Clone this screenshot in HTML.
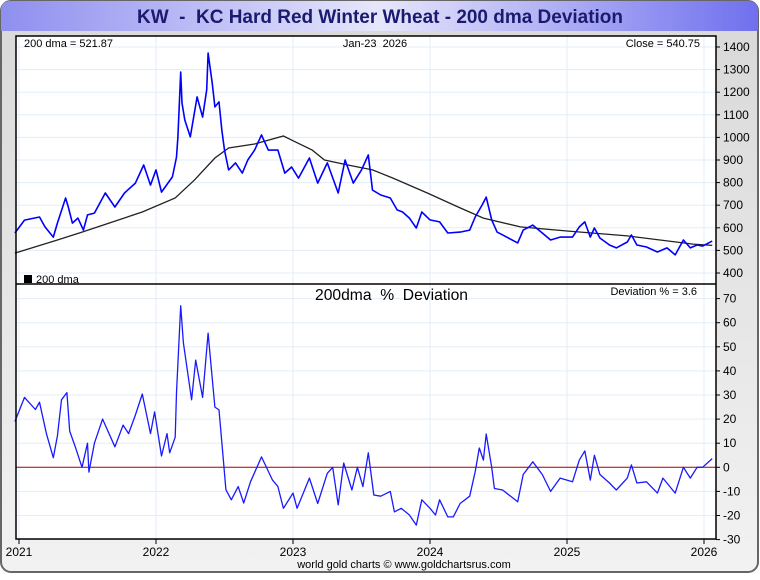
<!DOCTYPE html>
<html><head><meta charset="utf-8">
<style>
html,body{margin:0;padding:0;background:#fff;}
body{width:760px;height:575px;overflow:hidden;font-family:"Liberation Sans",sans-serif;}
</style></head>
<body>
<svg id="chart" width="760" height="575" xmlns="http://www.w3.org/2000/svg" font-family="Liberation Sans, sans-serif">
<defs>
<linearGradient id="tg" x1="0" x2="1" y1="0" y2="0">
<stop offset="0" stop-color="#8f8ff0"/><stop offset="0.5" stop-color="#e6e6fb"/><stop offset="1" stop-color="#7070ee"/>
</linearGradient>
<linearGradient id="bg" x1="0" x2="0" y1="0" y2="1">
<stop offset="0" stop-color="#d8d8d8"/><stop offset="1" stop-color="#f2f2f2"/>
</linearGradient>
</defs>
<rect x="1" y="1" width="757" height="571" rx="10" fill="url(#bg)" stroke="#666" stroke-width="2"/>
<path d="M1,31 L1,11 Q1,1 11,1 L748,1 Q758,1 758,11 L758,31 Z" fill="url(#tg)"/>
<text x="137" y="23" font-size="19" font-weight="bold" fill="#1a1a70" textLength="486" lengthAdjust="spacingAndGlyphs" xml:space="preserve">KW  -  KC Hard Red Winter Wheat - 200 dma Deviation</text>
<rect x="16" y="36" width="700" height="503" fill="#fff"/>
<g id="grid"></g>
<g id="marks"></g>
<rect x="16" y="36" width="700" height="503" fill="none" stroke="#000" stroke-width="1.5"/>
<line x1="16" y1="284" x2="716" y2="284" stroke="#000" stroke-width="1.5"/>
<g id="axes" font-size="12" fill="#000"></g>
<text x="24" y="47" font-size="11">200 dma = 521.87</text>
<text x="375" y="47" font-size="11" text-anchor="middle" xml:space="preserve">Jan-23  2026</text>
<text x="700" y="47" font-size="11" text-anchor="end">Close = 540.75</text>
<rect x="24" y="275" width="8" height="8" fill="#000"/>
<text x="36" y="283" font-size="11">200 dma</text>
<text x="315" y="300" font-size="16" textLength="153" lengthAdjust="spacingAndGlyphs" xml:space="preserve">200dma  %  Deviation</text>
<text x="697" y="295" font-size="11" text-anchor="end">Deviation % = 3.6</text>
<text x="404" y="568" font-size="11" text-anchor="middle">world gold charts © www.goldchartsrus.com</text>
</svg>
<script>
const years = [2021,2022,2023,2024,2025,2026];
const priceTicks = [400,500,600,700,800,900,1000,1100,1200,1300,1400];
const devTicks = [-30,-20,-10,0,10,20,30,40,50,60,70];
const priceT = [-0.03,0.04,0.15,0.19,0.25,0.28,0.34,0.36,0.39,0.43,0.47,0.50,0.55,0.63,0.70,0.77,0.85,0.91,0.96,1.0,1.04,1.12,1.15,1.16,1.18,1.19,1.21,1.25,1.30,1.34,1.37,1.38,1.41,1.43,1.46,1.48,1.50,1.53,1.58,1.63,1.67,1.72,1.77,1.82,1.89,1.94,1.99,2.04,2.12,2.18,2.25,2.33,2.38,2.44,2.50,2.55,2.58,2.64,2.71,2.76,2.80,2.85,2.90,2.94,3.0,3.07,3.13,3.22,3.29,3.33,3.38,3.41,3.45,3.49,3.56,3.64,3.68,3.75,3.82,3.88,3.95,4.04,4.09,4.13,4.17,4.20,4.24,4.31,4.36,4.44,4.47,4.51,4.58,4.66,4.73,4.79,4.85,4.90,4.95,4.99,5.06];
const priceV = [577,634,648,604,559,621,732,692,621,643,590,657,665,754,692,754,798,878,789,856,758,825,913,1002,1289,1152,1077,1002,1179,1090,1210,1373,1241,1135,1157,1033,944,856,887,842,900,944,1011,944,944,842,869,820,909,798,887,754,900,798,856,922,767,745,732,679,670,643,599,670,635,626,577,581,590,648,701,736,635,581,559,533,590,612,577,546,559,559,604,626,559,599,555,524,511,537,568,524,515,493,511,480,546,511,524,519,541];
const dmaT = [-0.03,0.28,0.46,0.90,1.14,1.28,1.43,1.53,1.72,1.93,1.99,2.14,2.23,2.40,2.58,2.73,2.98,3.22,3.39,3.66,4.0,4.44,4.92,5.06];
const dmaV = [488,546,581,670,732,811,909,953,971,1006,988,944,900,878,856,820,754,688,643,604,586,564,528,522];
const devT = [-0.03,0.04,0.12,0.15,0.2,0.25,0.28,0.31,0.35,0.37,0.41,0.46,0.5,0.51,0.55,0.61,0.70,0.76,0.8,0.85,0.90,0.96,0.99,1.04,1.08,1.10,1.14,1.15,1.18,1.20,1.22,1.26,1.29,1.34,1.38,1.41,1.43,1.46,1.49,1.51,1.55,1.60,1.64,1.69,1.77,1.85,1.89,1.93,2.0,2.03,2.12,2.18,2.25,2.29,2.33,2.37,2.43,2.47,2.51,2.55,2.59,2.64,2.71,2.74,2.79,2.85,2.90,2.94,3.0,3.04,3.07,3.13,3.17,3.22,3.29,3.33,3.36,3.39,3.41,3.45,3.47,3.53,3.64,3.68,3.75,3.82,3.88,3.95,4.04,4.09,4.13,4.17,4.20,4.24,4.31,4.36,4.44,4.47,4.51,4.58,4.66,4.70,4.79,4.85,4.90,4.95,4.99,5.06];
const devV = [19,29,24,27,14,4,13,28,31,15,8.6,0,10,-2,10,20,8.5,17.5,14,21.7,30.4,14,23,4.7,14,6,12.5,31,67,51.6,43.8,28,44.5,29,55.7,37,25,23.8,4.3,-9.3,-13.5,-8,-14.8,-6,4.3,-5.3,-8,-17,-10.7,-17,-4.5,-15,-2.5,0,-15.6,1.8,-9.4,0,-8,6,-11.5,-12,-10,-18.5,-17,-19.8,-24,-13.5,-17,-19.8,-13.5,-20.6,-20.6,-15,-12,-1.8,8,3,13.8,0,-8.8,-9.4,-14.3,-3,2.3,-3,-10,-4.5,-6,3,6.8,-5.3,5,-3,-6.5,-9.4,-4.5,1,-6.5,-6,-10.7,-4.5,-10.7,0,-4.5,0,0,3.6];

const NS = 'http://www.w3.org/2000/svg';
const X = t => 19 + t * 137;
const xYear = y => X(y - 2021);
const Yp = p => 273 - (p - 400) * 0.226;
const Yd = d => 467.3 - d * 2.41;
function mk(tag, attrs, parent){const e=document.createElementNS(NS,tag);for(const k in attrs)e.setAttribute(k,attrs[k]);parent.appendChild(e);return e;}
const grid=document.getElementById('grid'), marks=document.getElementById('marks'), axes=document.getElementById('axes');
years.forEach(y=>{
  const l=mk('line',{x1:xYear(y),x2:xYear(y),y1:36,y2:539,stroke:'#e2edf7','stroke-width':1},grid);
  
  
  const tk=mk('line',{x1:xYear(y),x2:xYear(y),y1:539,y2:544,stroke:'#000'},axes);
  
  
  const tx=mk('text',{x:xYear(y),y:556,'text-anchor':'middle','font-size':12},axes);
  tx.textContent=y;
  
  
});
priceTicks.forEach(p=>{
  const l=mk('line',{x1:16,x2:716,y1:Yp(p),y2:Yp(p),stroke:'#e2edf7'},grid);
  
  
  const tk=mk('line',{x1:716,x2:720,y1:Yp(p),y2:Yp(p),stroke:'#000'},axes);
  
  
  const tx=mk('text',{x:723,y:Yp(p)+4},axes);
  tx.textContent=p;
  
  
});
devTicks.forEach(d=>{
  const l=mk('line',{x1:16,x2:716,y1:Yd(d),y2:Yd(d),stroke:'#e2edf7'},grid);
  
  
  const tk=mk('line',{x1:716,x2:720,y1:Yd(d),y2:Yd(d),stroke:'#000'},axes);
  
  
  const tx=mk('text',{x:723,y:Yd(d)+4},axes);
  tx.textContent=d;
  
  
});
const zl=mk('line',{x1:16,x2:716,y1:Yd(0),y2:Yd(0),stroke:'#b00000','stroke-width':1},marks);


function pts(ts,vs,fy){return ts.map((t,i)=>X(t).toFixed(1)+','+fy(vs[i]).toFixed(1)).join(' ');}
const dma=mk('polyline',{points:pts(dmaT,dmaV,Yp),fill:'none',stroke:'#222','stroke-width':1.3},marks);


const pr=mk('polyline',{points:pts(priceT,priceV,Yp),fill:'none',stroke:'#0000ff','stroke-width':1.6,'stroke-linejoin':'round'},marks);


const dv=mk('polyline',{points:pts(devT,devV,Yd),fill:'none',stroke:'#1a1aff','stroke-width':1.3,'stroke-linejoin':'round'},marks);


</script>
</body></html>
